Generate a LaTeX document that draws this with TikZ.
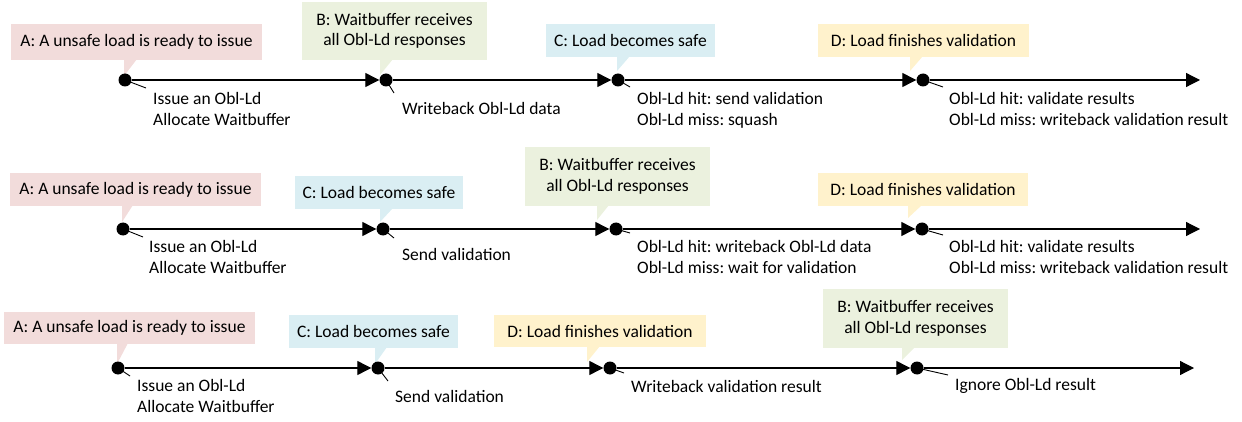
\documentclass[tikz,border=0pt]{standalone}
\usepackage{fontspec}
\setmainfont{Carlito}
\usetikzlibrary{arrows.meta}
\definecolor{cpink}{HTML}{F2DCDB}
\definecolor{cgreen}{HTML}{EBF1DE}
\definecolor{cblue}{HTML}{DAEEF3}
\definecolor{cyel}{HTML}{FFF2CC}
\tikzset{
  dotnode/.style={circle,fill=black,inner sep=0pt,minimum size=13pt},
  box/.style={inner sep=0pt,align=center,font=\fontsize{17.5}{20.5}\selectfont\frenchspacing},
  lbl/.style={inner sep=0pt,anchor=north west,align=left,font=\fontsize{17.5}{20.5}\selectfont\frenchspacing},
  tl/.style={line width=1.2pt,-{Triangle[length=14pt,width=14pt]}},
  leader/.style={line width=0.9pt},
}
\begin{document}
\begin{tikzpicture}[x=1pt,y=-1pt]
\useasboundingbox (0,0) rectangle (1242,422);
% ---------------- Row 1 ----------------
\fill[cpink] (124,59) -- (137,59) -- (124,76) -- cycle;
\node[box,fill=cpink,minimum width=251pt,minimum height=36pt] (bA1) at (136.5,42) {A: A unsafe load is ready to issue};
\fill[cgreen] (380,59) -- (393,59) -- (380,75) -- cycle;
\node[box,fill=cgreen,minimum width=185pt,minimum height=58pt] (bB1) at (394.5,31) {B: Waitbuffer receives\\all Obl-Ld responses};
\fill[cblue] (617,56) -- (630,56) -- (617,71) -- cycle;
\node[box,fill=cblue,minimum width=169pt,minimum height=33pt] (bC1) at (630.5,40.5) {C: Load becomes safe};
\fill[cyel] (910,56) -- (923,56) -- (910,71) -- cycle;
\node[box,fill=cyel,minimum width=211pt,minimum height=33pt] (bD1) at (923.5,40.5) {D: Load finishes validation};

\coordinate (la1) at (146,88);
\coordinate (lb1) at (394,93);
\coordinate (lc1) at (630,87);
\coordinate (ld1) at (943,87);
\coordinate (e1) at (1200,80);
\draw[leader] (125,80) -- (la1);
\draw[leader] (386,80) -- (lb1);
\draw[leader] (618,80) -- (lc1);
\draw[leader] (923,80) -- (ld1);
\node[dotnode] (a1) at (125,80) {};
\node[dotnode] (b1) at (386,80) {};
\node[dotnode] (c1) at (618,80) {};
\node[dotnode] (d1) at (923,80) {};
\draw[tl] (a1) -- (b1);
\draw[tl] (b1) -- (c1);
\draw[tl] (c1) -- (d1);
\draw[tl] (d1) -- (e1);
\node[lbl] (ta1) at (153,92.5) {Issue an Obl-Ld\\Allocate Waitbuffer};
\node[lbl] (tb1) at (402,102.5) {Writeback Obl-Ld data};
\node[lbl] (tc1) at (637,92.5) {Obl-Ld hit: send validation\\Obl-Ld miss: squash};
\node[lbl] (td1) at (949,92.5) {Obl-Ld hit: validate results\\Obl-Ld miss: writeback validation result};

% ---------------- Row 2 ----------------
\fill[cpink] (122,205) -- (133,205) -- (122,222) -- cycle;
\node[box,fill=cpink,minimum width=251pt,minimum height=33pt] (bA2) at (135.5,189.5) {A: A unsafe load is ready to issue};
\fill[cblue] (380,208) -- (393,208) -- (380,222) -- cycle;
\node[box,fill=cblue,minimum width=168pt,minimum height=33pt] (bC2) at (379,192.5) {C: Load becomes safe};
\fill[cgreen] (597,205) -- (609,205) -- (597,220) -- cycle;
\node[box,fill=cgreen,minimum width=185pt,minimum height=59pt] (bB2) at (617.5,176.5) {B: Waitbuffer receives\\all Obl-Ld responses};
\fill[cyel] (908,205) -- (922,205) -- (908,218) -- cycle;
\node[box,fill=cyel,minimum width=210pt,minimum height=33pt] (bD2) at (923,189.5) {D: Load finishes validation};

\coordinate (la2) at (143,237);
\coordinate (lc2) at (394,238);
\coordinate (lb2) at (630,233);
\coordinate (ld2) at (943,235);
\coordinate (e2) at (1200,229);
\draw[leader] (123,229) -- (la2);
\draw[leader] (383,229) -- (lc2);
\draw[leader] (616,229) -- (lb2);
\draw[leader] (922,229) -- (ld2);
\node[dotnode] (a2) at (123,229) {};
\node[dotnode] (c2) at (383,229) {};
\node[dotnode] (b2) at (616,229) {};
\node[dotnode] (d2) at (922,229) {};
\draw[tl] (a2) -- (c2);
\draw[tl] (c2) -- (b2);
\draw[tl] (b2) -- (d2);
\draw[tl] (d2) -- (e2);
\node[lbl] (ta2) at (149,240.5) {Issue an Obl-Ld\\Allocate Waitbuffer};
\node[lbl] (tc2) at (402,248.5) {Send validation};
\node[lbl] (tb2) at (637,240.5) {Obl-Ld hit: writeback Obl-Ld data\\Obl-Ld miss: wait for validation};
\node[lbl] (td2) at (949,240.5) {Obl-Ld hit: validate results\\Obl-Ld miss: writeback validation result};

% ---------------- Row 3 ----------------
\fill[cpink] (117,343) -- (128,343) -- (117,364) -- cycle;
\node[box,fill=cpink,minimum width=251pt,minimum height=32pt] (bA3) at (129.5,328) {A: A unsafe load is ready to issue};
\fill[cblue] (375,347) -- (387,347) -- (375,364) -- cycle;
\node[box,fill=cblue,minimum width=169pt,minimum height=33pt] (bC3) at (373.5,331.5) {C: Load becomes safe};
\fill[cyel] (587,346) -- (600,346) -- (587,362) -- cycle;
\node[box,fill=cyel,minimum width=212pt,minimum height=32pt] (bD3) at (600,331) {D: Load finishes validation};
\fill[cgreen] (902,347) -- (915,347) -- (902,360) -- cycle;
\node[box,fill=cgreen,minimum width=185pt,minimum height=59pt] (bB3) at (915.5,318.5) {B: Waitbuffer receives\\all Obl-Ld responses};

\coordinate (la3) at (130,376);
\coordinate (lc3) at (388,381);
\coordinate (ld3) at (624,373);
\coordinate (lb3) at (948,375);
\coordinate (e3) at (1194,368);
\draw[leader] (118,368) -- (la3);
\draw[leader] (378,368) -- (lc3);
\draw[leader] (610,368) -- (ld3);
\draw[leader] (917,368) -- (lb3);
\node[dotnode] (a3) at (118,368) {};
\node[dotnode] (c3) at (378,368) {};
\node[dotnode] (d3) at (610,368) {};
\node[dotnode] (b3) at (917,368) {};
\draw[tl] (a3) -- (c3);
\draw[tl] (c3) -- (d3);
\draw[tl] (d3) -- (b3);
\draw[tl] (b3) -- (e3);
\node[lbl] (ta3) at (137,379.5) {Issue an Obl-Ld\\Allocate Waitbuffer};
\node[lbl] (tc3) at (395,390.5) {Send validation};
\node[lbl] (td3) at (631,380.5) {Writeback validation result};
\node[lbl] (tb3) at (955,378.5) {Ignore Obl-Ld result};
\end{tikzpicture}
\end{document}
